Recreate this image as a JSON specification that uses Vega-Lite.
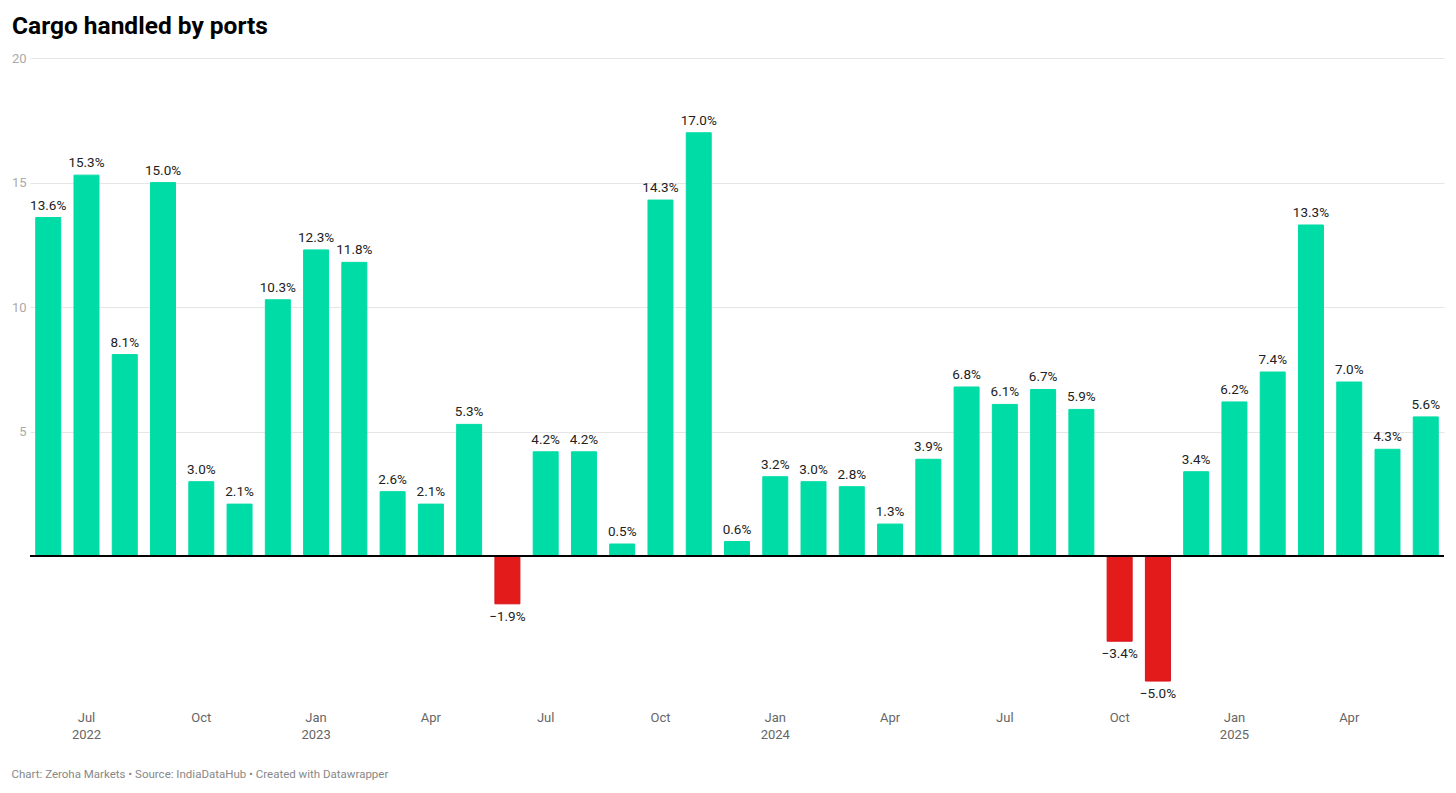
{
  "$schema": "https://vega.github.io/schema/vega-lite/v6.json",
  "width": 1414,
  "height": 648,
  "autosize": {"type": "none"},
  "padding": {"left": 30, "top": 58, "right": 12, "bottom": 87},
  "background": "white",
  "title": {"text": "Cargo handled by ports", "anchor": "start", "frame": "group", "dx": -18, "offset": 13, "font": "Roboto", "fontSize": 24.5, "fontWeight": "bold", "color": "#000000"},
  "config": {"view": {"stroke": null}, "font": "Roboto"},
  "data": {"values": [
    {"month": "2022-06", "v": 13.6},
    {"month": "2022-07", "v": 15.3},
    {"month": "2022-08", "v": 8.1},
    {"month": "2022-09", "v": 15.0},
    {"month": "2022-10", "v": 3.0},
    {"month": "2022-11", "v": 2.1},
    {"month": "2022-12", "v": 10.3},
    {"month": "2023-01", "v": 12.3},
    {"month": "2023-02", "v": 11.8},
    {"month": "2023-03", "v": 2.6},
    {"month": "2023-04", "v": 2.1},
    {"month": "2023-05", "v": 5.3},
    {"month": "2023-06", "v": -1.9},
    {"month": "2023-07", "v": 4.2},
    {"month": "2023-08", "v": 4.2},
    {"month": "2023-09", "v": 0.5},
    {"month": "2023-10", "v": 14.3},
    {"month": "2023-11", "v": 17.0},
    {"month": "2023-12", "v": 0.6},
    {"month": "2024-01", "v": 3.2},
    {"month": "2024-02", "v": 3.0},
    {"month": "2024-03", "v": 2.8},
    {"month": "2024-04", "v": 1.3},
    {"month": "2024-05", "v": 3.9},
    {"month": "2024-06", "v": 6.8},
    {"month": "2024-07", "v": 6.1},
    {"month": "2024-08", "v": 6.7},
    {"month": "2024-09", "v": 5.9},
    {"month": "2024-10", "v": -3.4},
    {"month": "2024-11", "v": -5.0},
    {"month": "2024-12", "v": 3.4},
    {"month": "2025-01", "v": 6.2},
    {"month": "2025-02", "v": 7.4},
    {"month": "2025-03", "v": 13.3},
    {"month": "2025-04", "v": 7.0},
    {"month": "2025-05", "v": 4.3},
    {"month": "2025-06", "v": 5.6}
  ]},
  "encoding": {
    "x": {
      "field": "month",
      "type": "ordinal",
      "sort": null,
      "scale": {"paddingInner": 0.347, "paddingOuter": 0.15},
      "title": "Chart: Zeroha Markets • Source: IndiaDataHub • Created with Datawrapper",
      "axis": {
        "values": ["2022-07", "2022-10", "2023-01", "2023-04", "2023-07", "2023-10", "2024-01", "2024-04", "2024-07", "2024-10", "2025-01", "2025-04"],
        "labelExpr": "(toNumber(substring(datum.value,5,7)) == 1 || datum.value == '2022-07') ? [['Jan','','','Apr','','','Jul','','','Oct','',''][toNumber(substring(datum.value,5,7))-1], substring(datum.value,0,4)] : ['Jan','','','Apr','','','Jul','','','Oct','',''][toNumber(substring(datum.value,5,7))-1]",
        "labelAngle": 0,
        "labelOverlap": false,
        "labelBound": false,
        "domain": false,
        "ticks": false,
        "grid": false,
        "labelPadding": 5,
        "labelFontSize": 13,
        "labelLineHeight": 17,
        "labelColor": "#666666",
        "labelFont": "Roboto",
        "titleAnchor": "start",
        "titleAlign": "left",
        "titleX": -19,
        "titleY": 68,
        "titleBaseline": "middle",
        "titleFontSize": 11.5,
        "titleFontWeight": "normal",
        "titleColor": "#888888",
        "titleFont": "Roboto"
      }
    },
    "y": {
      "field": "v",
      "type": "quantitative",
      "scale": {"domain": [-6, 20], "nice": false, "zero": false},
      "axis": {
        "values": [5, 10, 15, 20],
        "title": null,
        "domain": false,
        "ticks": false,
        "grid": true,
        "gridColor": "#e6e6e6",
        "gridWidth": 1,
        "labelColor": "#aaaaaa",
        "labelFontSize": 13,
        "labelPadding": 4,
        "labelFont": "Roboto"
      }
    }
  },
  "layer": [
    {
      "mark": {"type": "bar", "strokeWidth": 1},
      "encoding": {
        "color": {"condition": {"test": "datum.v < 0", "value": "#e31b1b"}, "value": "#00dca5"},
        "stroke": {"condition": {"test": "datum.v < 0", "value": "#d9121a"}, "value": "#00dca5"}
      }
    },
    {
      "mark": {"type": "rule", "color": "#000000", "strokeWidth": 1.3},
      "encoding": {"y": {"datum": 0}, "x": null}
    },
    {
      "transform": [
        {"filter": "datum.v >= 0"},
        {"calculate": "format(datum.v, '.1f') + '%'", "as": "label"}
      ],
      "mark": {"type": "text", "baseline": "alphabetic", "dy": -8, "fontSize": 13.5, "color": "#222222", "font": "Roboto"},
      "encoding": {"text": {"field": "label"}}
    },
    {
      "transform": [
        {"filter": "datum.v < 0"},
        {"calculate": "format(datum.v, '.1f') + '%'", "as": "label"}
      ],
      "mark": {"type": "text", "baseline": "top", "dy": 6, "fontSize": 13.5, "color": "#222222", "font": "Roboto"},
      "encoding": {"text": {"field": "label"}}
    }
  ]
}
